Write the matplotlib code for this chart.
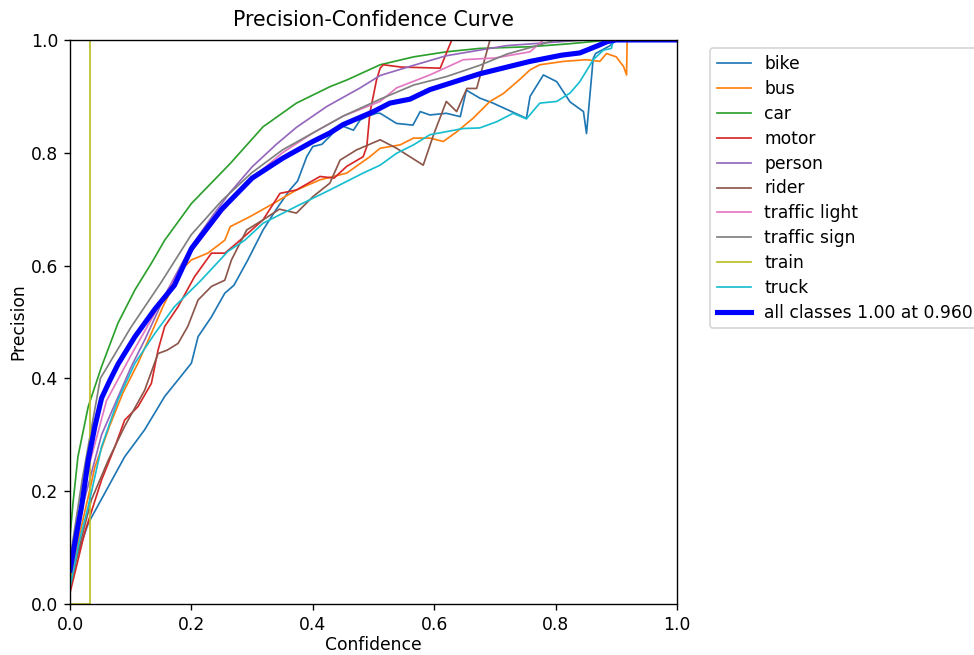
import matplotlib
matplotlib.use('Agg')
import matplotlib.pyplot as plt

# Precision vs confidence
names = ['bike', 'bus', 'car', 'motor', 'person', 'rider',
         'traffic light', 'traffic sign', 'train', 'truck']

bike_conf = [0.0, 0.01, 0.03, 0.057, 0.09, 0.11, 0.123, 0.156, 0.18, 0.20, 0.211, 0.233,
             0.255, 0.27, 0.293, 0.318, 0.34, 0.362, 0.375, 0.39, 0.40, 0.415, 0.428,
             0.445, 0.467, 0.478, 0.489, 0.505, 0.511, 0.538, 0.565, 0.577, 0.593, 0.62,
             0.643, 0.653, 0.675, 0.697, 0.752, 0.758, 0.78, 0.802, 0.824, 0.846, 0.851,
             0.862, 0.866, 0.89, 0.9, 1.0]
bike_prec = [0.03, 0.08, 0.143, 0.196, 0.261, 0.29, 0.309, 0.368, 0.40, 0.427, 0.474, 0.509,
             0.551, 0.565, 0.61, 0.663, 0.70, 0.734, 0.75, 0.793, 0.811, 0.815, 0.829,
             0.849, 0.84, 0.858, 0.864, 0.87, 0.87, 0.852, 0.849, 0.873, 0.867, 0.87,
             0.864, 0.911, 0.897, 0.888, 0.861, 0.90, 0.938, 0.926, 0.89, 0.873, 0.834,
             0.967, 0.976, 0.99, 1.0, 1.0]

bus_conf = [0.0, 0.015, 0.03, 0.041, 0.065, 0.087, 0.112, 0.134, 0.153, 0.183, 0.2, 0.227,
            0.255, 0.264, 0.297, 0.335, 0.373, 0.412, 0.456, 0.494, 0.511, 0.544, 0.566,
            0.593, 0.615, 0.637, 0.664, 0.692, 0.714, 0.741, 0.758, 0.774, 0.813, 0.851,
            0.873, 0.884, 0.9, 0.912, 0.917, 0.918, 1.0]
bus_prec = [0.04, 0.12, 0.19, 0.243, 0.315, 0.374, 0.427, 0.48, 0.527, 0.592, 0.61, 0.622,
            0.645, 0.669, 0.687, 0.71, 0.734, 0.752, 0.764, 0.793, 0.808, 0.814, 0.826,
            0.826, 0.82, 0.837, 0.861, 0.891, 0.905, 0.93, 0.947, 0.956, 0.962, 0.965,
            0.962, 0.976, 0.97, 0.953, 0.938, 1.0, 1.0]

car_conf = [0.0, 0.005, 0.013, 0.03, 0.052, 0.079, 0.107, 0.134, 0.156, 0.2, 0.264, 0.318,
            0.373, 0.428, 0.456, 0.511, 0.566, 0.62, 0.675, 0.758, 0.82, 0.87, 0.9, 1.0]
car_prec = [0.12, 0.18, 0.261, 0.35, 0.421, 0.498, 0.557, 0.604, 0.645, 0.71, 0.781, 0.846,
            0.888, 0.917, 0.929, 0.956, 0.97, 0.979, 0.985, 0.988, 0.993, 0.998, 1.0, 1.0]

motor_conf = [0.0, 0.024, 0.052, 0.074, 0.09, 0.112, 0.134, 0.145, 0.156, 0.178, 0.205,
              0.233, 0.255, 0.275, 0.318, 0.346, 0.373, 0.412, 0.435, 0.456, 0.483, 0.489,
              0.494, 0.505, 0.511, 0.516, 0.545, 0.61, 0.629, 1.0]
motor_prec = [0.02, 0.126, 0.22, 0.279, 0.326, 0.35, 0.391, 0.45, 0.492, 0.527, 0.58,
              0.622, 0.622, 0.64, 0.681, 0.728, 0.734, 0.758, 0.755, 0.776, 0.793, 0.811,
              0.87, 0.929, 0.95, 0.956, 0.952, 0.95, 1.0, 1.0]

person_conf = [0.0, 0.02, 0.052, 0.101, 0.123, 0.161, 0.2, 0.236, 0.264, 0.3, 0.34, 0.373,
               0.423, 0.478, 0.511, 0.566, 0.62, 0.675, 0.72, 0.81, 0.85, 1.0]
person_prec = [0.08, 0.17, 0.30, 0.421, 0.468, 0.557, 0.635, 0.69, 0.73, 0.775, 0.815, 0.845,
               0.882, 0.915, 0.937, 0.955, 0.972, 0.982, 0.99, 0.997, 1.0, 1.0]

rider_conf = [0.0, 0.015, 0.035, 0.063, 0.09, 0.123, 0.145, 0.16, 0.178, 0.194, 0.211, 0.233,
              0.255, 0.266, 0.291, 0.318, 0.345, 0.373, 0.4, 0.428, 0.445, 0.472, 0.511,
              0.538, 0.582, 0.599, 0.62, 0.637, 0.654, 0.67, 0.692, 1.0]
rider_prec = [0.03, 0.10, 0.184, 0.255, 0.315, 0.379, 0.444, 0.45, 0.462, 0.492, 0.539, 0.563,
              0.574, 0.61, 0.663, 0.681, 0.70, 0.693, 0.722, 0.746, 0.787, 0.805, 0.823,
              0.808, 0.778, 0.832, 0.891, 0.873, 0.914, 0.914, 1.0, 1.0]

light_conf = [0.0, 0.03, 0.06, 0.1, 0.15, 0.2, 0.25, 0.3, 0.35, 0.4, 0.45, 0.511, 0.538,
              0.593, 0.648, 0.7, 0.758, 0.78, 1.0]
light_prec = [0.07, 0.24, 0.36, 0.44, 0.535, 0.625, 0.695, 0.755, 0.80, 0.835, 0.865, 0.891,
              0.915, 0.938, 0.965, 0.968, 0.979, 1.0, 1.0]

sign_conf = [0.0, 0.02, 0.05, 0.1, 0.15, 0.2, 0.25, 0.3, 0.35, 0.4, 0.45, 0.511, 0.566,
             0.62, 0.675, 0.72, 0.77, 0.8, 1.0]
sign_prec = [0.08, 0.22, 0.40, 0.49, 0.57, 0.655, 0.715, 0.765, 0.805, 0.835, 0.865, 0.895,
             0.92, 0.935, 0.955, 0.975, 0.99, 1.0, 1.0]

train_conf = [0.0, 0.033, 0.033, 1.0]
train_prec = [0.0, 0.0, 1.0, 1.0]

truck_conf = [0.0, 0.015, 0.03, 0.052, 0.079, 0.107, 0.14, 0.172, 0.216, 0.26, 0.288, 0.318,
              0.373, 0.428, 0.483, 0.511, 0.538, 0.566, 0.593, 0.648, 0.675, 0.703, 0.73,
              0.752, 0.774, 0.802, 0.824, 0.84, 0.857, 0.862, 0.879, 0.892, 0.895, 1.0]
truck_prec = [0.03, 0.11, 0.173, 0.279, 0.362, 0.427, 0.48, 0.527, 0.574, 0.625, 0.645, 0.675,
              0.705, 0.734, 0.764, 0.778, 0.799, 0.814, 0.832, 0.843, 0.844, 0.855, 0.87,
              0.86, 0.888, 0.891, 0.906, 0.926, 0.956, 0.965, 0.982, 0.985, 1.0, 1.0]

all_conf = [0.0, 0.01, 0.019, 0.03, 0.041, 0.052, 0.065, 0.079, 0.107, 0.14, 0.172, 0.2,
            0.25, 0.3, 0.35, 0.4, 0.428, 0.45, 0.5, 0.527, 0.56, 0.593, 0.675, 0.758,
            0.81, 0.84, 0.87, 0.885, 0.9, 1.0]
all_prec = [0.06, 0.12, 0.173, 0.255, 0.315, 0.365, 0.395, 0.425, 0.474, 0.523, 0.565, 0.63,
            0.70, 0.755, 0.79, 0.82, 0.835, 0.85, 0.873, 0.888, 0.895, 0.912, 0.94, 0.962,
            0.973, 0.977, 0.99, 0.997, 1.0, 1.0]
all_label = 'all classes 1.00 at 0.960'

curves = [(bike_conf, bike_prec), (bus_conf, bus_prec), (car_conf, car_prec),
          (motor_conf, motor_prec), (person_conf, person_prec), (rider_conf, rider_prec),
          (light_conf, light_prec), (sign_conf, sign_prec), (train_conf, train_prec),
          (truck_conf, truck_prec)]

# higher dpi on a smaller canvas -> text about 1.14x bigger, same pixel size
DPI = 123
fig, ax = plt.subplots(figsize=(974 / DPI, 655 / DPI), dpi=DPI)
fig.subplots_adjust(left=0.0719, right=0.695, bottom=0.0779, top=0.939)

for name, (x, y) in zip(names, curves):
    ax.plot(x, y, linewidth=1, label=name)
ax.plot(all_conf, all_prec, linewidth=3, color='blue', label=all_label)

ax.set_xlabel('Confidence', labelpad=1.5)
ax.set_ylabel('Precision', labelpad=2)
ax.set_xlim(0, 1)
ax.set_ylim(0, 1)
ax.legend(bbox_to_anchor=(1.04, 1), loc='upper left', labelspacing=0.4)
ax.set_title('Precision-Confidence Curve', pad=8)

fig.savefig('out.png', dpi=DPI)
